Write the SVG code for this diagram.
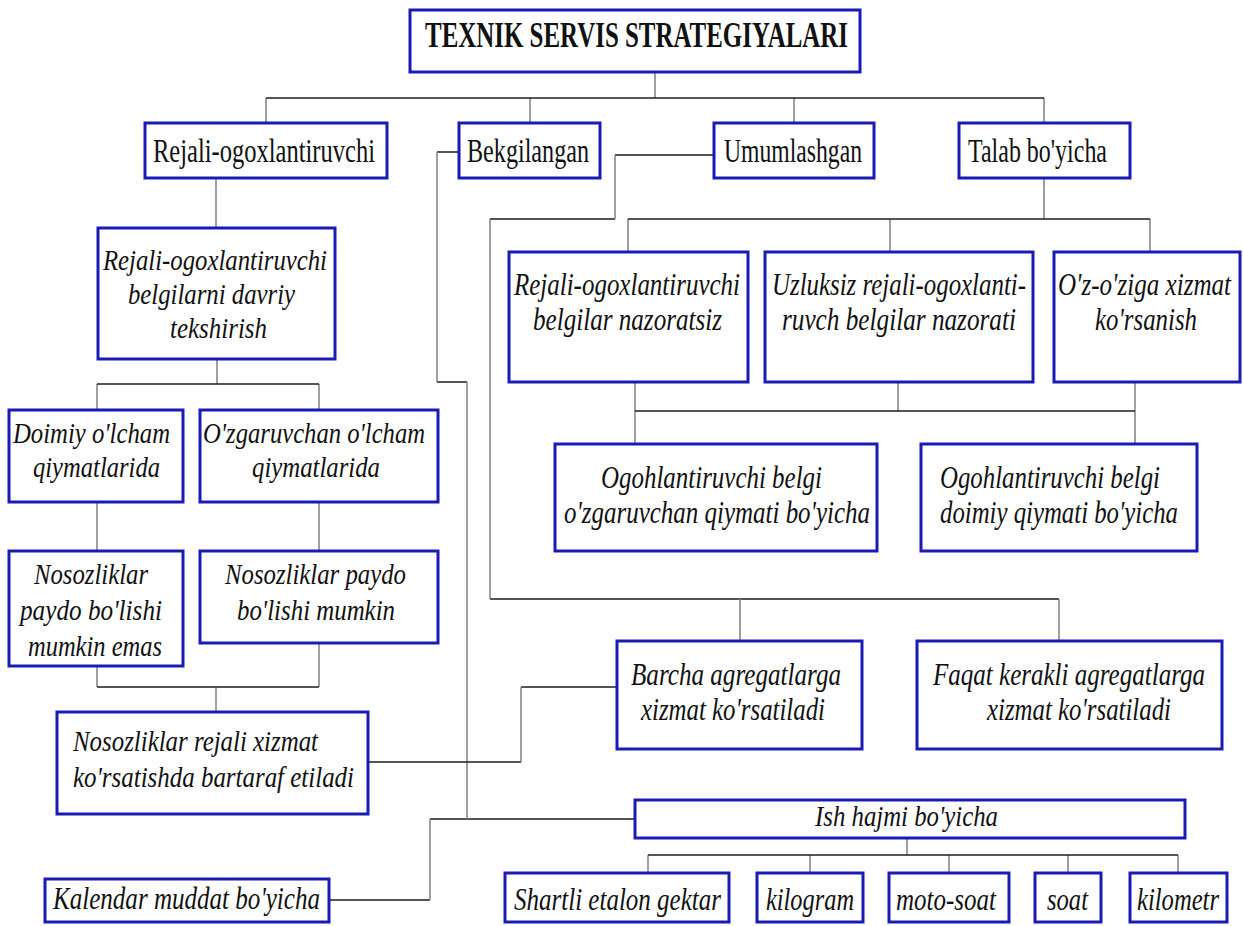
<svg xmlns="http://www.w3.org/2000/svg" width="1243" height="926" viewBox="0 0 1243 926">
<style>
.b{fill:#fff;stroke:#1a1ab4;stroke-width:3}
.h{stroke:#1e1e1e;stroke-width:1.5;fill:none}
.v{stroke:#808080;stroke-width:1.5;fill:none}
text{font-family:"Liberation Serif","Times New Roman",serif;fill:#111}
.r{font-size:34px}
.i{font-style:italic;font-size:31px}
.s{font-style:italic;font-size:30px}
.t{font-weight:bold;font-size:36px}
</style>
<rect width="1243" height="926" fill="#fff"/>
<g id="connectors">
<path class="v" d="M655 72V98M266 98V123M530 98V123M794 98V123M1044 98V123"/>
<path class="h" d="M266 98H1044"/>
<path class="h" d="M459 152H437M437 382H467M430 819H635M430 900H329"/>
<path class="v" d="M437 152V382M467 382V819M430 819V900"/>
<path class="h" d="M714 155H615M615 219H490M490 599H1059"/>
<path class="v" d="M615 155V219M490 219V599M740 599V641M1059 599V641"/>
<path class="v" d="M1044 178V219M628 219V252M890 219V252M1150 219V252"/>
<path class="h" d="M628 219H1150"/>
<path class="v" d="M635 382V444M898 382V411M1135 382V444"/>
<path class="h" d="M635 411H1135"/>
<path class="v" d="M216 178V228M217 359V384M97 384V410M319 384V410M97 502V551M319 502V551M97 666V687M319 643V687M216 687V712"/>
<path class="h" d="M97 384H319M97 687H319"/>
<path class="h" d="M617 687H521M521 762H368"/>
<path class="v" d="M521 687V762"/>
<path class="v" d="M907 838V855M648 855V873M810 855V873M949 855V873M1068 855V873M1178 855V873"/>
<path class="h" d="M648 855H1178"/>
</g>
<g id="title"><rect class="b" x="410" y="10" width="450" height="62"/><text class="t" x="425" y="47" textLength="423" lengthAdjust="spacingAndGlyphs">TEXNIK SERVIS STRATEGIYALARI</text></g>
<g id="rejali"><rect class="b" x="145" y="123" width="242" height="55"/><text class="r" x="153" y="162" textLength="222" lengthAdjust="spacingAndGlyphs">Rejali-ogoxlantiruvchi</text></g>
<g id="bekgilangan"><rect class="b" x="459" y="123" width="141" height="55"/><text class="r" x="467" y="162" textLength="122" lengthAdjust="spacingAndGlyphs">Bekgilangan</text></g>
<g id="umumlashgan"><rect class="b" x="714" y="123" width="160" height="55"/><text class="r" x="724" y="162" textLength="138" lengthAdjust="spacingAndGlyphs">Umumlashgan</text></g>
<g id="talab"><rect class="b" x="959" y="123" width="171" height="55"/><text class="r" x="968" y="162" textLength="139" lengthAdjust="spacingAndGlyphs">Talab bo'yicha</text></g>
<g id="davriy"><rect class="b" x="98" y="228" width="237" height="131"/>
<text class="s" x="103" y="270" textLength="224" lengthAdjust="spacingAndGlyphs">Rejali-ogoxlantiruvchi</text>
<text class="s" x="128" y="304" textLength="167" lengthAdjust="spacingAndGlyphs">belgilarni davriy</text>
<text class="s" x="170" y="338" textLength="97" lengthAdjust="spacingAndGlyphs">tekshirish</text></g>
<g id="doimiy"><rect class="b" x="9" y="410" width="174" height="92"/>
<text class="s" x="13" y="443" textLength="157" lengthAdjust="spacingAndGlyphs">Doimiy o'lcham</text>
<text class="s" x="33" y="477" textLength="127" lengthAdjust="spacingAndGlyphs">qiymatlarida</text></g>
<g id="ozgaruvchan"><rect class="b" x="200" y="410" width="238" height="92"/>
<text class="s" x="203" y="443" textLength="222" lengthAdjust="spacingAndGlyphs">O'zgaruvchan o'lcham</text>
<text class="s" x="252" y="477" textLength="128" lengthAdjust="spacingAndGlyphs">qiymatlarida</text></g>
<g id="nosoz1"><rect class="b" x="9" y="551" width="174" height="115"/>
<text class="s" x="34" y="584" textLength="114" lengthAdjust="spacingAndGlyphs">Nosozliklar</text>
<text class="s" x="20" y="620" textLength="142" lengthAdjust="spacingAndGlyphs">paydo bo'lishi</text>
<text class="s" x="28" y="656" textLength="134" lengthAdjust="spacingAndGlyphs">mumkin emas</text></g>
<g id="nosoz2"><rect class="b" x="200" y="551" width="238" height="92"/>
<text class="s" x="225" y="584" textLength="181" lengthAdjust="spacingAndGlyphs">Nosozliklar paydo</text>
<text class="s" x="237" y="620" textLength="158" lengthAdjust="spacingAndGlyphs">bo'lishi mumkin</text></g>
<g id="nosozrejali"><rect class="b" x="57" y="712" width="311" height="102"/>
<text class="s" x="73" y="751" textLength="245" lengthAdjust="spacingAndGlyphs">Nosozliklar rejali xizmat</text>
<text class="s" x="73" y="787" textLength="281" lengthAdjust="spacingAndGlyphs">ko'rsatishda bartaraf etiladi</text></g>
<g id="kalendar"><rect class="b" x="45" y="879" width="284" height="43"/>
<text class="i" x="53" y="909" textLength="267" lengthAdjust="spacingAndGlyphs">Kalendar muddat bo'yicha</text></g>
<g id="nazoratsiz"><rect class="b" x="509" y="252" width="239" height="130"/>
<text class="i" x="514" y="295" textLength="226" lengthAdjust="spacingAndGlyphs">Rejali-ogoxlantiruvchi</text>
<text class="i" x="533" y="330" textLength="189" lengthAdjust="spacingAndGlyphs">belgilar nazoratsiz</text></g>
<g id="uzluksiz"><rect class="b" x="765" y="252" width="268" height="130"/>
<text class="i" x="772" y="295" textLength="254" lengthAdjust="spacingAndGlyphs">Uzluksiz rejali-ogoxlanti-</text>
<text class="i" x="782" y="330" textLength="234" lengthAdjust="spacingAndGlyphs">ruvch belgilar nazorati</text></g>
<g id="ozoziga"><rect class="b" x="1054" y="252" width="186" height="130"/>
<text class="i" x="1058" y="295" textLength="173" lengthAdjust="spacingAndGlyphs">O'z-o'ziga xizmat</text>
<text class="i" x="1095" y="330" textLength="102" lengthAdjust="spacingAndGlyphs">ko'rsanish</text></g>
<g id="ogoh1"><rect class="b" x="555" y="444" width="322" height="107"/>
<text class="i" x="601" y="488" textLength="221" lengthAdjust="spacingAndGlyphs">Ogohlantiruvchi belgi</text>
<text class="i" x="564" y="523" textLength="306" lengthAdjust="spacingAndGlyphs">o'zgaruvchan qiymati bo'yicha</text></g>
<g id="ogoh2"><rect class="b" x="921" y="444" width="276" height="107"/>
<text class="i" x="940" y="488" textLength="220" lengthAdjust="spacingAndGlyphs">Ogohlantiruvchi belgi</text>
<text class="i" x="940" y="523" textLength="238" lengthAdjust="spacingAndGlyphs">doimiy qiymati bo'yicha</text></g>
<g id="barcha"><rect class="b" x="617" y="641" width="245" height="108"/>
<text class="i" x="631" y="685" textLength="210" lengthAdjust="spacingAndGlyphs">Barcha agregatlarga</text>
<text class="i" x="641" y="720" textLength="184" lengthAdjust="spacingAndGlyphs">xizmat ko'rsatiladi</text></g>
<g id="faqat"><rect class="b" x="917" y="641" width="305" height="108"/>
<text class="i" x="933" y="685" textLength="272" lengthAdjust="spacingAndGlyphs">Faqat kerakli agregatlarga</text>
<text class="i" x="987" y="720" textLength="184" lengthAdjust="spacingAndGlyphs">xizmat ko'rsatiladi</text></g>
<g id="ishhajmi"><rect class="b" x="635" y="800" width="550" height="38"/>
<text class="s" x="815" y="826" textLength="183" lengthAdjust="spacingAndGlyphs">Ish hajmi bo'yicha</text></g>
<g id="shartli"><rect class="b" x="505" y="873" width="224" height="49"/>
<text class="i" x="514" y="910" textLength="207" lengthAdjust="spacingAndGlyphs">Shartli etalon gektar</text></g>
<g id="kilogram"><rect class="b" x="757" y="873" width="106" height="49"/>
<text class="i" x="766" y="910" textLength="88" lengthAdjust="spacingAndGlyphs">kilogram</text></g>
<g id="motosoat"><rect class="b" x="889" y="873" width="120" height="49"/>
<text class="i" x="896" y="910" textLength="100" lengthAdjust="spacingAndGlyphs">moto-soat</text></g>
<g id="soat"><rect class="b" x="1035" y="873" width="66" height="49"/>
<text class="i" x="1047" y="910" textLength="41" lengthAdjust="spacingAndGlyphs">soat</text></g>
<g id="kilometr"><rect class="b" x="1130" y="873" width="97" height="49"/>
<text class="i" x="1137" y="910" textLength="82" lengthAdjust="spacingAndGlyphs">kilometr</text></g>
</svg>
